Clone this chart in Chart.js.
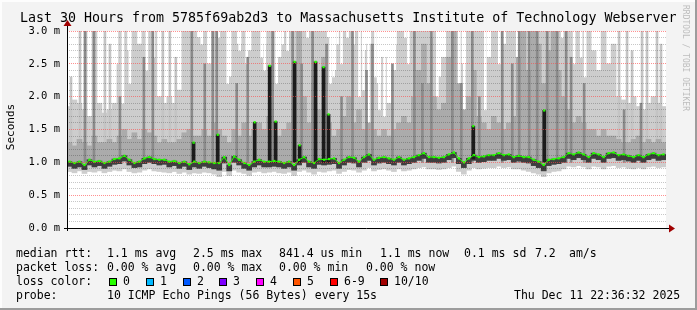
<!DOCTYPE html>
<html>
<head>
<meta charset="utf-8">
<script src="https://cdn.jsdelivr.net/npm/chart.js@4/dist/chart.umd.min.js"></script>
<style>
  html, body { margin: 0; padding: 0; background: #f3f3f3; }
</style>
</head>
<body>
<canvas id="smokeChart" width="697" height="310"></canvas>
<script>
// time axis: hours since Wed 00:00, one bucket every 15 min
const startHour = 16.65;
const endHour = 46.65;
const bucketHours = 0.25;

const medianRtt = [
  1.01, 0.99, 1.01, 0.96, 1.04, 1.01, 1.02, 0.99, 1.01, 1.05,
  1.06, 1.10, 1.04, 0.99, 1.01, 1.06, 1.08, 1.05, 1.04, 1.04,
  1.01, 1.02, 0.99, 1.01, 0.97, 1.01, 0.99, 1.01, 1.00, 0.99,
  0.99, 1.08, 0.96, 1.09, 1.04, 0.99, 0.96, 1.01, 1.04, 1.01,
  1.01, 1.02, 1.01, 0.99, 1.01, 0.96, 1.04, 1.08, 1.01, 0.99,
  1.05, 1.04, 1.05, 1.06, 0.99, 1.04, 1.08, 1.07, 1.01, 1.08,
  1.12, 1.04, 1.07, 1.08, 1.06, 1.04, 1.08, 1.04, 1.06, 1.08,
  1.11, 1.14, 1.08, 1.08, 1.07, 1.08, 1.12, 1.15, 1.06, 1.00,
  1.06, 1.11, 1.08, 1.09, 1.11, 1.11, 1.14, 1.11, 1.12, 1.08,
  1.10, 1.08, 1.08, 1.04, 1.01, 0.96, 1.04, 1.05, 1.06, 1.08,
  1.14, 1.12, 1.15, 1.12, 1.08, 1.14, 1.12, 1.08, 1.14, 1.15,
  1.11, 1.12, 1.10, 1.08, 1.11, 1.08, 1.12, 1.14, 1.11, 1.12
];

const maxRtt = [
  1.85, 1.95, 1.9, 1.8, 1.7, 3.0, 1.9, 1.75, 1.8, 1.9,
  3.0, 3.0, 2.7, 3.0, 2.8, 3.0, 3.0, 3.0, 2.0, 1.9,
  2.0, 1.9, 2.1, 3.0, 3.0, 3.0, 2.9, 3.0, 2.5, 3.0,
  3.0, 3.0, 2.3, 3.0, 2.8, 3.0, 2.7, 3.0, 3.0, 2.8,
  3.0, 3.0, 2.6, 3.0, 3.0, 3.0, 3.0, 3.0, 3.0, 3.0,
  3.0, 3.0, 2.9, 2.4, 3.0, 3.0, 3.0, 3.0, 3.0, 2.7,
  2.8, 3.0, 2.2, 2.6, 1.9, 2.4, 3.0, 3.0, 3.0, 3.0,
  3.0, 3.0, 3.0, 3.0, 2.3, 2.6, 3.0, 3.0, 3.0, 2.5,
  3.0, 3.0, 3.0, 3.0, 2.6, 3.0, 3.0, 2.8, 3.0, 3.0,
  3.0, 3.0, 3.0, 3.0, 3.0, 3.0, 3.0, 3.0, 3.0, 3.0,
  3.0, 3.0, 3.0, 3.0, 3.0, 2.7, 2.4, 3.0, 2.5, 2.8,
  2.0, 1.95, 1.9, 2.0, 1.85, 1.8, 1.9, 2.0, 1.9, 1.85
];

const upperRtt = [
  1.3, 1.25, 1.35, 1.3, 1.25, 1.4, 1.3, 1.3, 1.35, 1.3,
  1.4, 1.5, 1.35, 1.45, 1.35, 1.5, 1.45, 1.4, 1.3, 1.35,
  1.3, 1.3, 1.35, 1.45, 1.5, 1.4, 1.4, 1.5, 1.4, 1.6,
  1.5, 1.4, 1.3, 1.5, 1.4, 1.6, 1.4, 1.5, 1.6, 1.5,
  1.7, 1.5, 1.4, 1.5, 1.6, 2.4, 3.0, 2.0, 1.6, 2.2,
  1.8, 2.6, 1.6, 1.4, 1.5, 1.7, 2.0, 1.6, 1.8, 1.5,
  1.6, 1.5, 1.4, 1.5, 1.4, 1.5, 1.6, 1.7, 1.6, 2.0,
  2.4, 2.8, 2.2, 2.0, 1.8, 1.9, 2.6, 3.0, 2.2, 1.8,
  2.0, 2.4, 1.7, 1.6, 1.5, 1.7, 1.6, 1.5, 1.6, 1.7,
  2.6, 3.0, 2.4, 3.0, 2.8, 2.2, 2.7, 3.0, 2.4, 2.0,
  1.8, 1.6, 1.7, 1.6, 1.5, 1.5, 1.4, 1.5, 1.4, 1.4,
  1.35, 1.3, 1.3, 1.35, 1.4, 1.3, 1.35, 1.3, 1.35, 1.3
];

const lowRtt = [
  0.94, 0.91, 0.93, 0.89, 0.96, 0.93, 0.95, 0.91, 0.94, 0.97,
  0.98, 1.02, 0.96, 0.92, 0.93, 0.98, 1.0, 0.98, 0.96, 0.97,
  0.93, 0.95, 0.91, 0.94, 0.89, 0.93, 0.91, 0.94, 0.92, 0.9,
  0.88, 0.99, 0.87, 1.0, 0.96, 0.91, 0.88, 0.93, 0.96, 0.93,
  0.93, 0.94, 0.93, 0.91, 0.93, 0.88, 0.96, 1.0, 0.93, 0.91,
  0.97, 0.96, 0.97, 0.98, 0.91, 0.96, 1.0, 0.99, 0.93, 1.0,
  1.03, 0.96, 0.99, 1.0, 0.98, 0.96, 1.0, 0.96, 0.98, 1.0,
  1.03, 1.06, 1.0, 1.0, 0.99, 1.0, 1.04, 1.07, 0.98, 0.92,
  0.98, 1.03, 1.0, 1.01, 1.03, 1.03, 1.06, 1.03, 1.04, 1.0,
  1.02, 1.0, 0.99, 0.95, 0.92, 0.87, 0.95, 0.97, 0.98, 1.0,
  1.06, 1.04, 1.07, 1.04, 1.0, 1.06, 1.04, 1.0, 1.06, 1.07,
  1.03, 1.04, 1.02, 1.0, 1.03, 1.0, 1.04, 1.06, 1.03, 1.04
];

const minRtt = [
  0.86, 0.84, 0.87, 0.83, 0.86, 0.85, 0.87, 0.84, 0.86, 0.88,
  0.87, 0.9, 0.86, 0.84, 0.85, 0.88, 0.9, 0.87, 0.86, 0.85,
  0.84, 0.86, 0.83, 0.85, 0.82, 0.84, 0.83, 0.85, 0.84, 0.82,
  0.78, 0.86, 0.8, 0.88, 0.85, 0.83, 0.8, 0.85, 0.86, 0.84,
  0.85, 0.86, 0.84, 0.83, 0.85, 0.8, 0.86, 0.88, 0.85, 0.82,
  0.86, 0.85, 0.87, 0.88, 0.83, 0.86, 0.89, 0.88, 0.85, 0.88,
  0.92, 0.87, 0.89, 0.9, 0.88, 0.86, 0.9, 0.87, 0.88, 0.9,
  0.92, 0.93, 0.9, 0.9, 0.89, 0.9, 0.92, 0.94, 0.86, 0.82,
  0.88, 0.92, 0.9, 0.91, 0.92, 0.92, 0.94, 0.92, 0.93, 0.9,
  0.9, 0.88, 0.86, 0.84, 0.82, 0.78, 0.84, 0.86, 0.87, 0.9,
  0.94, 0.93, 0.95, 0.93, 0.9, 0.94, 0.93, 0.9, 0.94, 0.95,
  0.92, 0.93, 0.91, 0.9, 0.92, 0.9, 0.93, 0.94, 0.92, 0.93
];

// single 3-minute columns where the slowest ping stayed lower than its neighbours
const gapTimes = [
  18.9, 19.15, 19.45, 19.8, 20.65, 21.0, 23.4, 24.25, 24.7, 25.3,
  25.65, 26.4, 26.55, 27.15, 27.45, 27.7, 28.7, 29.85, 30.0, 30.2,
  30.4, 30.7, 31.0, 31.3, 31.5, 31.75, 32.1, 32.3, 32.55, 33.1,
  33.6, 33.75, 34.9, 35.2, 36.3, 36.55, 37.6, 38.3, 39.2, 39.6,
  41.15, 41.45, 42.05, 42.4, 42.6
];
const gapTops = [
  2.3, 2.5, 1.9, 2.2, 2.4, 2.6, 2.8, 2.9, 2.2, 2.7,
  2.5, 2.6, 2.4, 2.2, 2.8, 2.7, 2.9, 2.2, 2.3, 2.8,
  2.5, 2.9, 2.8, 2.0, 2.1, 1.6, 2.3, 1.8, 1.7, 2.8,
  2.9, 2.5, 2.9, 2.0, 1.7, 1.6, 1.8, 2.5, 1.5, 1.5,
  2.9, 2.9, 2.5, 2.6, 2.3
];

// thin single columns that reached far above their neighbours
const streakTimes = [16.85, 17.3, 17.6, 18.55, 18.8, 21.45, 21.8, 22.1, 44.3, 44.7, 44.95, 45.45, 45.7, 46.2, 46.4];
const streakTops = [2.3, 3.0, 3.0, 3.0, 2.8, 3.0, 3.0, 2.6, 3.0, 3.0, 2.7, 3.0, 3.0, 3.0, 2.8];

// columns where most of the ten pings were slow (darker smoke)
const darkTimes = [
  17.55, 18.0, 19.3, 20.5, 20.95, 22.9, 23.55, 23.95, 24.15, 25.15,
  25.7, 26.95, 27.95, 28.4, 28.95, 29.65, 30.4, 30.95, 31.65, 31.95,
  32.95, 34.05, 34.45, 34.9, 35.95, 36.4, 36.95, 37.3, 38.45, 38.95,
  39.3, 39.8, 40.2, 40.7, 41.2, 41.65, 41.9, 42.55, 44.55, 45.4
];
const darkTops = [
  3.0, 3.0, 2.0, 2.6, 3.0, 3.0, 2.5, 3.0, 3.0, 2.2,
  2.6, 3.0, 3.0, 2.5, 3.0, 2.8, 2.0, 3.0, 2.4, 2.8,
  2.5, 3.0, 2.2, 3.0, 3.0, 2.2, 3.0, 2.0, 3.0, 2.5,
  3.0, 3.0, 3.0, 3.0, 3.0, 3.0, 2.6, 2.2, 1.8, 1.9
];

// short bursts where the median itself jumped
const spikeTimes = [22.99, 24.2, 26.05, 26.8, 27.1, 28.05, 28.3, 29.1, 29.5, 29.75, 37.0, 40.55];
const spikeBase = [1.0, 0.98, 1.0, 1.0, 1.0, 1.0, 1.0, 1.0, 1.0, 1.0, 1.05, 1.0];
const spikeTops = [1.30, 1.42, 1.61, 2.47, 1.62, 2.53, 1.26, 2.53, 2.45, 1.73, 1.55, 1.79];

const lossLabels = ['0', '1', '2', '3', '4', '5', '6-9', '10/10'];
const lossColors = ['#26ff00', '#00b8ff', '#0059ff', '#7e00ff', '#ff00ff', '#ff5500', '#ff0000', '#a10000'];
const lossX = [109, 146, 183, 219, 256, 293, 330, 380];

const dayNames = ['Wed', 'Thu', 'Fri'];

const bucketTimes = medianRtt.map((v, i) => startHour + bucketHours * (i + 0.5));
const band = (lo, hi) => bucketTimes.map((t, i) => ({ x: t, y: [lo[i], hi[i]] }));

const mono = "'DejaVu Sans Mono', monospace";
const majorGrid = 'rgba(255,70,70,0.6)';
const minorGrid = 'rgba(0,0,0,0.22)';

const isMajorY = (v) => Math.abs(v * 2 - Math.round(v * 2)) < 1e-6;
const isHour = (v) => Math.abs(v - Math.round(v)) < 1e-6;

const smokeFrame = {
  id: 'smokeFrame',
  beforeDraw(chart) {
    const { ctx, chartArea: a } = chart;
    ctx.save();
    ctx.fillStyle = '#f3f3f3';
    ctx.fillRect(0, 0, chart.width, chart.height);
    ctx.fillStyle = '#ffffff';
    ctx.fillRect(a.left, a.top, a.right - a.left, a.bottom - a.top);
    ctx.restore();
  },
  afterDraw(chart) {
    const { ctx, chartArea: a } = chart;
    ctx.save();

    // frame
    ctx.fillStyle = '#fdfdfd';
    ctx.fillRect(0, 0, chart.width, 2);
    ctx.fillRect(0, 0, 2, chart.height);
    ctx.fillStyle = '#9c9c9c';
    ctx.fillRect(chart.width - 2, 0, 2, chart.height);
    ctx.fillRect(0, chart.height - 2, chart.width, 2);

    // axes with arrows
    ctx.strokeStyle = '#000';
    ctx.lineWidth = 1;
    ctx.beginPath();
    ctx.moveTo(a.left - 3, a.bottom + 0.5);
    ctx.lineTo(a.right + 3, a.bottom + 0.5);
    ctx.moveTo(a.left + 0.5, a.bottom + 3);
    ctx.lineTo(a.left + 0.5, a.top - 6);
    ctx.stroke();
    ctx.fillStyle = '#a00000';
    ctx.beginPath();
    ctx.moveTo(a.right + 3, a.bottom - 3.5);
    ctx.lineTo(a.right + 9, a.bottom + 0.5);
    ctx.lineTo(a.right + 3, a.bottom + 4.5);
    ctx.fill();
    ctx.beginPath();
    ctx.moveTo(a.left - 3.5, a.top - 5);
    ctx.lineTo(a.left + 0.5, a.top - 11);
    ctx.lineTo(a.left + 4.5, a.top - 5);
    ctx.fill();

    // title
    ctx.fillStyle = '#000';
    ctx.textBaseline = 'middle';
    ctx.font = '13.3px ' + mono;
    ctx.fillText('Last 30 Hours from 5785f69ab2d3 to Massachusetts Institute of Technology Webserver', 20, 19);

    // y axis title
    ctx.save();
    ctx.translate(11, 127);
    ctx.rotate(-Math.PI / 2);
    ctx.textAlign = 'center';
    ctx.font = '11px ' + mono;
    ctx.fillText('Seconds', 0, 0);
    ctx.restore();

    // watermark
    ctx.save();
    ctx.translate(685, 5);
    ctx.rotate(Math.PI / 2);
    ctx.fillStyle = '#bdbdbd';
    ctx.font = '8px ' + mono;
    ctx.textBaseline = 'middle';
    ctx.fillText('RRDTOOL / TOBI OETIKER', 0, 0);
    ctx.restore();

    // legend rows
    ctx.font = '11.5px ' + mono;
    ctx.fillStyle = '#000';
    const rows = [
      [254, [[16, 'median rtt:'], [107, '1.1 ms avg'], [193, '2.5 ms max'], [279, '841.4 us min'],
             [380, '1.1 ms now'], [464, '0.1 ms sd'], [535, '7.2'], [569, 'am/s']]],
      [268, [[16, 'packet loss:'], [107, '0.00 % avg'], [193, '0.00 % max'], [279, '0.00 % min'], [366, '0.00 % now']]],
      [282, [[16, 'loss color:']]],
      [296, [[16, 'probe:'], [107, '10 ICMP Echo Pings (56 Bytes) every 15s'], [514, 'Thu Dec 11 22:36:32 2025']]]
    ];
    rows.forEach(([y, parts]) => parts.forEach(([x, txt]) => ctx.fillText(txt, x, y)));

    lossLabels.forEach((lbl, i) => {
      const x = lossX[i];
      ctx.fillStyle = lossColors[i];
      ctx.fillRect(x, 278, 8, 8);
      ctx.strokeStyle = '#000';
      ctx.strokeRect(x + 0.5, 278.5, 7, 7);
      ctx.fillStyle = '#000';
      ctx.fillText(lbl, x + 14, 282);
    });

    ctx.restore();
  }
};

new Chart(document.getElementById('smokeChart'), {
  data: {
    datasets: [
      {
        type: 'scatter',
        data: spikeTimes.map((t, i) => ({ x: t, y: spikeTops[i] })),
        pointStyle: 'rect',
        pointRadius: 1.6,
        pointBorderWidth: 0,
        pointBackgroundColor: '#26ff00'
      },
      {
        type: 'line',
        data: bucketTimes.map((t, i) => ({ x: t, y: medianRtt[i] })),
        borderColor: '#26ff00',
        borderWidth: 1,
        pointStyle: 'rect',
        pointRadius: 1.6,
        pointBorderWidth: 0,
        pointBackgroundColor: '#26ff00',
        tension: 0
      },
      {
        type: 'bar',
        data: spikeTimes.map((t, i) => ({ x: t, y: [spikeBase[i], spikeTops[i]] })),
        backgroundColor: '#1c1c1c',
        barThickness: 3,
        grouped: false
      },
      {
        type: 'bar',
        data: band(lowRtt, medianRtt),
        backgroundColor: '#3e3e3e',
        barThickness: 5,
        grouped: false
      },
      {
        type: 'bar',
        data: darkTimes.map((t, i) => ({ x: t, y: [1.0, darkTops[i]] })),
        backgroundColor: '#8a8a8a',
        barThickness: 2,
        grouped: false
      },
      {
        type: 'bar',
        data: band(lowRtt, upperRtt),
        backgroundColor: '#ababab',
        barThickness: 5,
        grouped: false
      },
      {
        type: 'bar',
        data: streakTimes.map((t, i) => ({ x: t, y: [1.0, streakTops[i]] })),
        backgroundColor: '#c4c4c4',
        barThickness: 2,
        grouped: false
      },
      {
        type: 'bar',
        data: gapTimes.map((t, i) => ({ x: t, y: [gapTops[i], 3.0] })),
        backgroundColor: '#ffffff',
        barThickness: 2,
        grouped: false
      },
      {
        type: 'bar',
        data: band(minRtt, maxRtt),
        backgroundColor: '#cdcdcd',
        barThickness: 5,
        grouped: false
      }
    ]
  },
  options: {
    responsive: false,
    animation: false,
    layout: { padding: { left: 0, right: 31, top: 31, bottom: 0 } },
    plugins: { legend: { display: false }, tooltip: { enabled: false }, title: { display: false } },
    scales: {
      x: {
        type: 'linear',
        min: startHour,
        max: endHour,
        offset: false,
        afterFit: (scale) => { scale.height = 82; },
        border: { display: false, dash: [1, 1] },
        grid: {
          z: 1,
          drawTicks: false,
          color: (c) => {
            if (!c.tick || !isHour(c.tick.value)) return 'rgba(0,0,0,0)';
            return Math.round(c.tick.value) % 3 === 0 ? majorGrid : minorGrid;
          }
        },
        ticks: {
          stepSize: 1,
          autoSkip: false,
          maxRotation: 0,
          padding: 4,
          color: '#000',
          font: { family: mono, size: 10.5 },
          callback: (v) => {
            if (!isHour(v) || Math.round(v) % 6 !== 0) return '';
            const h = Math.round(v);
            return dayNames[Math.floor(h / 24)] + ' ' + String(h % 24).padStart(2, '0') + ':00';
          }
        }
      },
      y: {
        min: 0,
        max: 3.0,
        afterFit: (scale) => { scale.width = 67; },
        border: { display: false, dash: [1, 1] },
        grid: {
          z: 1,
          drawTicks: false,
          color: (c) => (c.tick && isMajorY(c.tick.value)) ? majorGrid : minorGrid
        },
        ticks: {
          stepSize: 0.1,
          autoSkip: false,
          padding: 7,
          color: '#000',
          font: { family: mono, size: 10.5 },
          callback: (v) => isMajorY(v) ? v.toFixed(1) + ' m' : ''
        }
      }
    }
  },
  plugins: [smokeFrame]
});
</script>
</body>
</html>
